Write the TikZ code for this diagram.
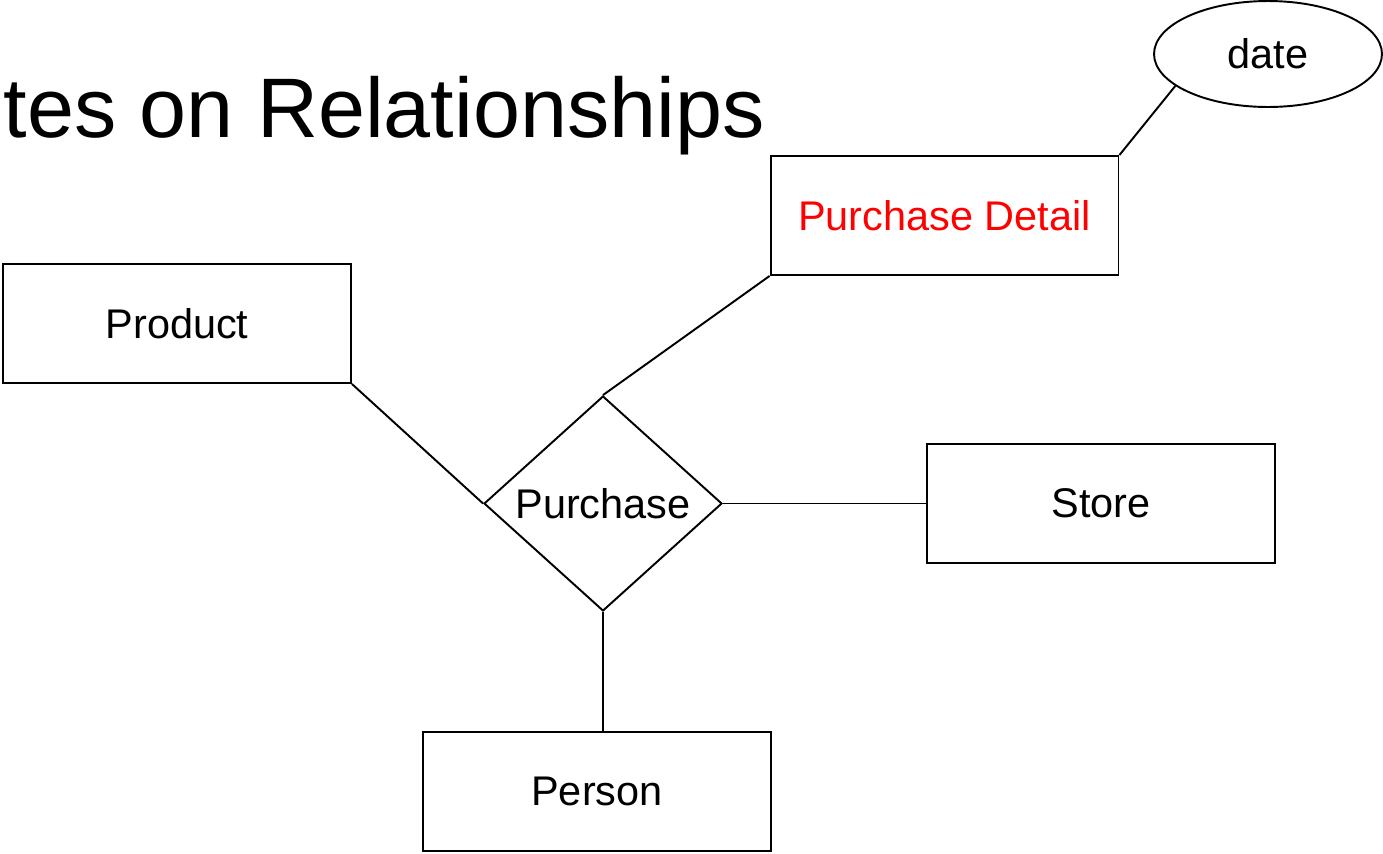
\documentclass[tikz,border=0pt]{standalone}
\usepackage{fontspec}
\setmainfont{Liberation Sans}
\usetikzlibrary{shapes.geometric}
\begin{document}
\begin{tikzpicture}[x=0.02cm,y=-0.02cm,
  er/.style={draw,line width=1.1pt,font=\fontsize{23.6}{28}\selectfont},
  entity/.style={er,rectangle,minimum width=6.96cm,minimum height=2.38cm,inner sep=0pt},
  relation/.style={er,diamond,minimum width=4.76cm,minimum height=4.3cm,inner sep=0pt,aspect=1.1},
  attrib/.style={er,ellipse,minimum width=4.56cm,minimum height=2.12cm,inner sep=0pt},
  link/.style={line width=1.1pt}]
\useasboundingbox (0,0) rectangle (1383,853);
\clip (0,0) rectangle (1383,853);
% heading, partly outside the frame
\node[anchor=base east,inner sep=0pt,font=\fontsize{48.1}{58}\selectfont] (title) at (765,137) {Attributes on Relationships};
% entities
\node[entity] (product) at (177,323.5) {Product};
\node[entity,text=red] (detail) at (944.5,215.5) {Purchase Detail};
\node[entity] (store) at (1101,503.5) {Store};
\node[entity] (person) at (597,791.5) {Person};
% relationship and attribute
\node[relation] (purchase) at (603,503.5) {Purchase};
\node[attrib] (date) at (1268,54) {date};
% connectors
\draw[link] (product.south east) -- (purchase.west);
\draw[link] (purchase.north) -- (detail.south west);
\draw[link] (purchase.east) -- (store.west);
\draw[link] (purchase.south) -- (purchase.south |- person.north);
\draw[link] (detail.north east) -- (date.199);
\end{tikzpicture}
\end{document}
